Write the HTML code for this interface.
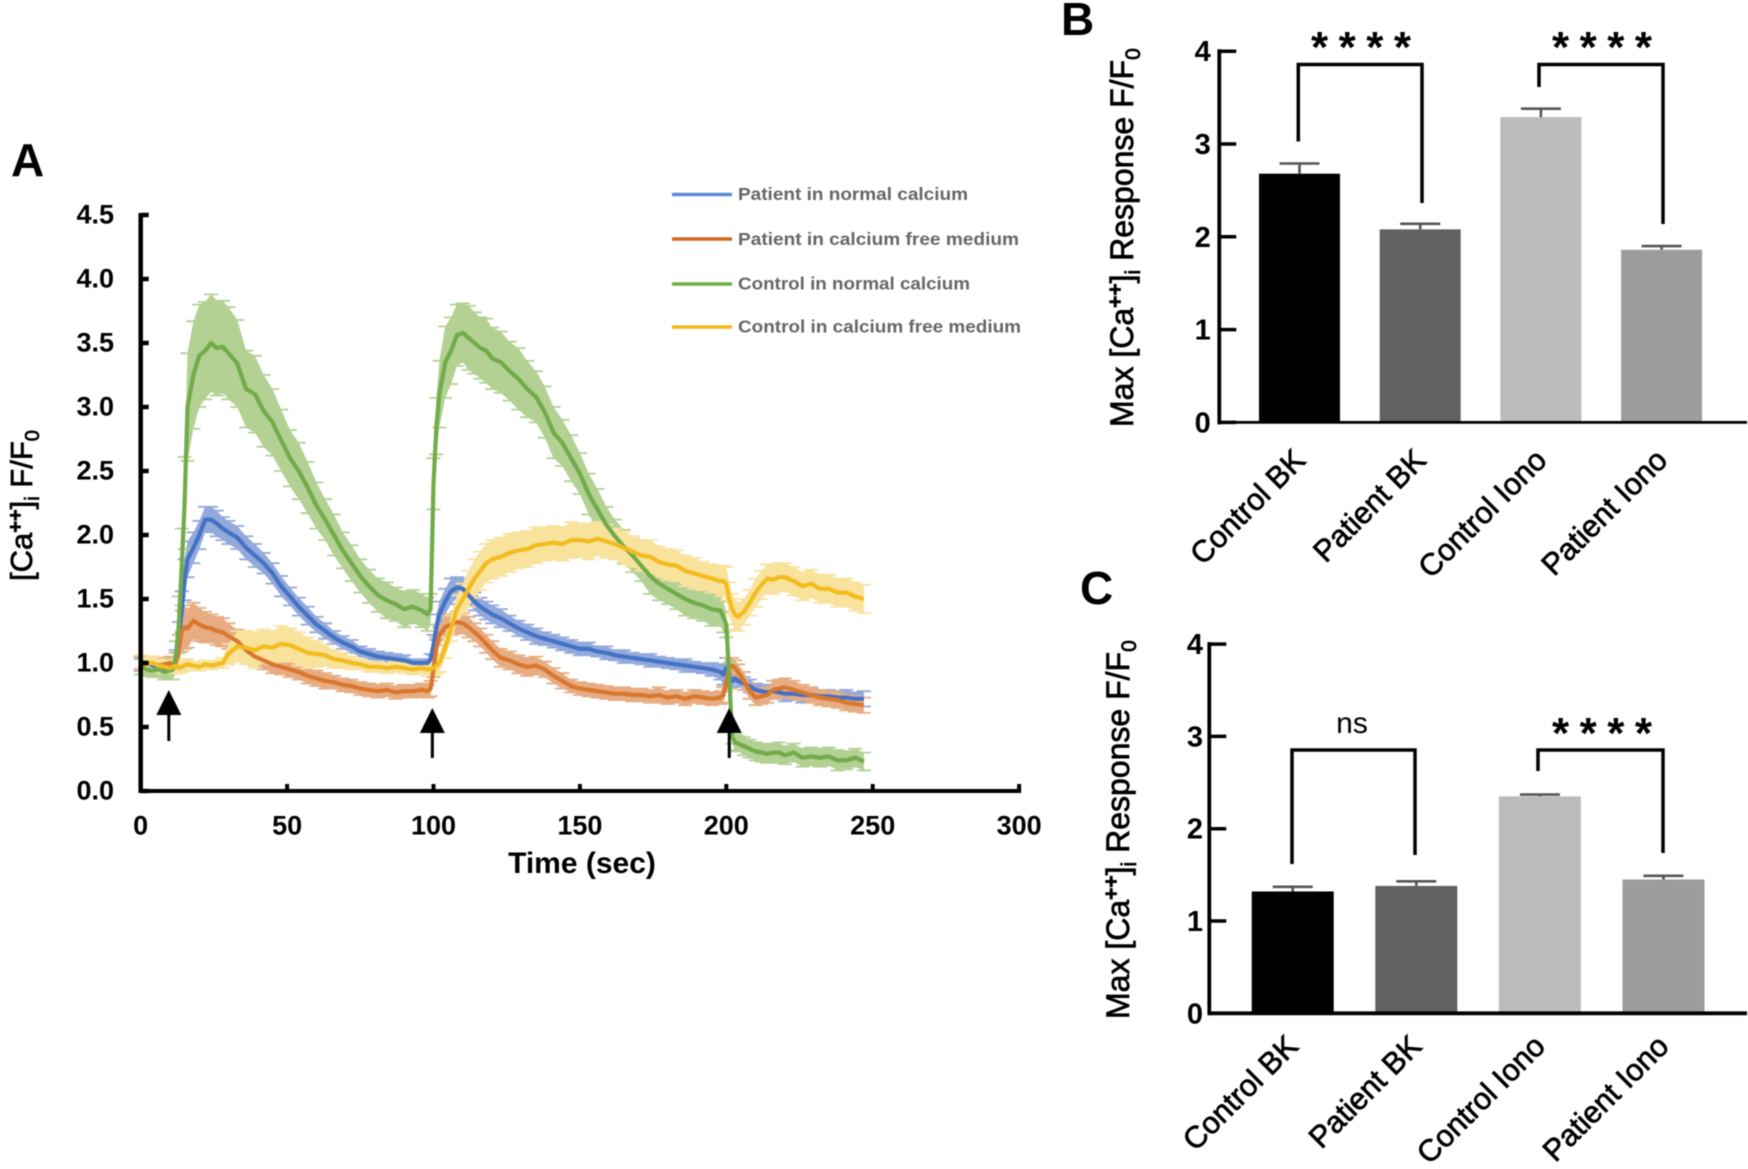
<!DOCTYPE html>
<html lang="en">
<head>
<meta charset="utf-8">
<title>Calcium response charts</title>
<style>
html,body{margin:0;padding:0;background:#fff;}
svg{display:block;filter:blur(.45px);}
text{font-family:"Liberation Sans",Arial,sans-serif;fill:#000;}
.tick-a{font-size:27px;font-weight:700;}
.tick-b{font-size:29px;font-weight:700;}
.title{font-size:32px;stroke:#000;stroke-width:.7px;}
.cat{font-size:30.5px;stroke:#000;stroke-width:.7px;}
.panel{font-size:46px;font-weight:700;}
.legend{font-size:17.5px;font-weight:700;fill:#666;}
.stars{font-size:44px;font-weight:700;}
</style>
</head>
<body>
<svg id="fig" xmlns="http://www.w3.org/2000/svg" width="1748" height="1169" viewBox="0 0 1748 1169">
  <rect width="1748" height="1169" fill="#fff"/>
  <text class="panel" x="11" y="176">A</text>
  <text class="panel" x="1061" y="35">B</text>
  <text class="panel" x="1080" y="604">C</text>

  <text class="title" transform="translate(32,581) rotate(-90)" style="font-size:31px">[Ca<tspan dy="-10" font-size="20" font-weight="700">++</tspan><tspan dy="10">]</tspan><tspan dy="7" font-size="20">i</tspan><tspan dy="-7"> F/F</tspan><tspan dy="7" font-size="20">0</tspan></text>
  <text x="582" y="873" text-anchor="middle" font-size="30" font-weight="700">Time (sec)</text>

  <text class="title" transform="translate(1133,427) rotate(-90)">Max [Ca<tspan dy="-11" font-size="21" font-weight="700">++</tspan><tspan dy="11">]</tspan><tspan dy="7" font-size="21">i</tspan><tspan dy="-7"> Response F/F</tspan><tspan dy="7" font-size="21">0</tspan></text>
  <text class="title" transform="translate(1129,1019) rotate(-90)">Max [Ca<tspan dy="-11" font-size="21" font-weight="700">++</tspan><tspan dy="11">]</tspan><tspan dy="7" font-size="21">i</tspan><tspan dy="-7"> Response F/F</tspan><tspan dy="7" font-size="21">0</tspan></text>

  <g id="legend">
    <line x1="672" x2="732" y1="194.5" y2="194.5" stroke="#5B8BD5" stroke-width="3.5"/>
    <text class="legend" x="738" y="200" textLength="230" lengthAdjust="spacingAndGlyphs">Patient in normal calcium</text>
    <line x1="672" x2="732" y1="239" y2="239" stroke="#D2691E" stroke-width="3.5"/>
    <text class="legend" x="738" y="245" textLength="281" lengthAdjust="spacingAndGlyphs">Patient in calcium free medium</text>
    <line x1="672" x2="732" y1="284" y2="284" stroke="#70AD47" stroke-width="3.5"/>
    <text class="legend" x="738" y="289.500" textLength="232" lengthAdjust="spacingAndGlyphs">Control in normal calcium</text>
    <line x1="672" x2="732" y1="327" y2="327" stroke="#F2B81C" stroke-width="3.5"/>
    <text class="legend" x="738" y="332.500" textLength="283" lengthAdjust="spacingAndGlyphs">Control in calcium free medium</text>
  </g>

  <g id="a-series"></g>
  <g id="a-axes"></g>
  <g id="a-arrows"></g>
  <g id="b-chart"></g>
  <g id="c-chart"></g>
</svg>

<script>
// ---------- Panel A data ----------
const times = [0,2,4,6,8, 10,11,12,13,14,15,16, 18,20,22,24,26,28,30,
  33,36,39,42,45,48,51,54,57,60,63,66,69,72,75,78,81,84,87,90,93,96,
  98,99,100,101,102, 104,106,108,110,112,114,116,118,120,
  123,126,129,132,135,138,141,144,147,150,153,156,159,162,165,168,171,174,177,180,183,186,189,192,195,198,
  199,200,201,202,203,204, 206,208,210,212,214,216,218,220, 223,226,229,232,235,238,241,244,247];

const patientNormal = [.99,1.0,.98,.97,.96, .97,.98,1.02,1.2,1.4,1.65,1.81, 1.9,2.0,2.12,2.12,2.09,2.05,2.02,
  1.98,1.9,1.84,1.78,1.7,1.6,1.52,1.44,1.37,1.3,1.25,1.2,1.16,1.13,1.09,1.07,1.05,1.04,1.03,1.02,1.0,1.0,
  1.0,1.03,1.14,1.28,1.38, 1.48,1.56,1.59,1.58,1.53,1.48,1.44,1.41,1.38,
  1.35,1.31,1.27,1.24,1.21,1.19,1.17,1.15,1.13,1.11,1.11,1.09,1.08,1.06,1.05,1.04,1.03,1.02,1.01,1.0,.99,.98,.97,.96,.95,.93,
  .91,.96,.9,.86,.88,.86, .84,.82,.79,.78,.77,.78,.77,.76, .76,.75,.75,.74,.74,.73,.73,.72,.72];
const patientNormalErr = [.05,.05,.05,.05,.05, .05,.05,.08,.12,.16,.16,.14, .12,.11,.1,.1,.1,.09,.09,
  .09,.09,.09,.08,.08,.08,.07,.07,.07,.06,.06,.05,.05,.05,.04,.04,.04,.04,.04,.04,.03,.03,
  .03,.04,.08,.1,.1, .1,.1,.08,.08,.07,.07,.07,.07,.07,
  .07,.06,.06,.06,.06,.05,.05,.05,.05,.05,.05,.04,.05,.04,.05,.04,.04,.05,.04,.04,.04,.05,.04,.04,.05,.06,
  .08,.08,.06,.05,.04,.04, .05,.05,.05,.05,.05,.05,.05,.06, .05,.06,.05,.05,.05,.05,.06,.05,.06];

const patientFree = [1.0,.99,1.0,.98,.99, 1.0,.98,1.0,1.1,1.25,1.28,1.27, 1.33,1.3,1.28,1.27,1.25,1.24,1.21,
  1.17,1.1,1.05,1.02,.99,.97,.95,.93,.9,.88,.86,.85,.83,.82,.8,.79,.78,.79,.77,.78,.78,.79,
  .78,.8,.95,1.12,1.22, 1.28,1.3,1.32,1.31,1.28,1.24,1.2,1.15,1.1,
  1.04,1.02,.99,.97,.98,.95,.9,.86,.82,.8,.79,.78,.77,.76,.76,.75,.75,.74,.75,.73,.74,.72,.74,.73,.72,.73,
  .75,.85,.98,.98,.96,.93, .86,.78,.73,.74,.75,.79,.8,.81, .79,.77,.75,.73,.72,.71,.69,.68,.67];
const patientFreeErr = [.05,.05,.05,.05,.05, .05,.05,.08,.12,.16,.17,.15, .14,.13,.12,.11,.11,.11,.1,
  .09,.08,.07,.07,.07,.06,.06,.06,.06,.06,.06,.05,.05,.05,.05,.05,.05,.05,.05,.05,.05,.05,
  .05,.06,.06,.08,.08, .08,.08,.08,.08,.08,.07,.07,.07,.07,
  .07,.07,.07,.07,.07,.06,.06,.06,.05,.05,.05,.05,.05,.05,.05,.05,.05,.05,.06,.05,.05,.05,.05,.05,.05,.05,
  .06,.07,.06,.06,.06,.06, .07,.06,.06,.06,.06,.07,.07,.07, .07,.06,.06,.06,.06,.06,.06,.06,.06];

const controlNormal = [.97,.95,.94,.95,.93, .94,.95,1.05,1.3,1.75,2.25,3.0, 3.25,3.4,3.44,3.5,3.46,3.47,3.42,
  3.34,3.14,3.1,2.97,2.88,2.74,2.6,2.5,2.37,2.23,2.12,2.0,1.88,1.78,1.68,1.6,1.53,1.49,1.46,1.42,1.44,1.41,
  1.38,1.42,2.4,2.85,3.1, 3.35,3.44,3.56,3.58,3.54,3.5,3.46,3.44,3.38,
  3.35,3.28,3.22,3.14,3.08,2.96,2.8,2.72,2.6,2.48,2.32,2.2,2.08,1.99,1.91,1.84,1.76,1.68,1.62,1.58,1.54,1.5,1.47,1.45,1.42,1.41,
  1.36,1.3,.9,.42,.38,.37, .35,.33,.31,.3,.29,.3,.3,.28, .3,.26,.27,.26,.27,.24,.24,.26,.23];
const controlNormalErr = [.06,.05,.05,.06,.06, .07,.08,.12,.22,.3,.36,.42, .42,.4,.38,.38,.37,.36,.36,
  .34,.3,.3,.28,.26,.24,.22,.22,.2,.18,.16,.16,.14,.14,.13,.13,.13,.14,.13,.14,.13,.13,
  .13,.12,.2,.22,.26, .28,.26,.24,.23,.25,.24,.24,.25,.24,
  .24,.23,.24,.22,.2,.2,.2,.18,.18,.16,.16,.16,.14,.13,.13,.13,.12,.14,.13,.12,.12,.13,.12,.12,.13,.12,
  .12,.1,.1,.05,.06,.06, .07,.07,.07,.07,.07,.07,.08,.07, .07,.07,.07,.07,.07,.08,.07,.07,.07];

const controlFree = [1.01,.99,1.0,.98,.97, .96,.97,.98,.96,.97,.98,.99, .98,.97,.99,.98,.99,1.0,1.07,
  1.13,1.12,1.1,1.13,1.12,1.15,1.14,1.11,1.08,1.07,1.06,1.03,1.02,1.0,.99,.97,.97,.96,.97,.96,.95,.96,
  .95,.95,.96,.98,1.0, 1.12,1.27,1.42,1.5,1.58,1.66,1.72,1.78,1.81,
  1.83,1.86,1.88,1.89,1.92,1.93,1.94,1.93,1.96,1.96,1.95,1.97,1.95,1.93,1.9,1.87,1.84,1.83,1.79,1.77,1.76,1.72,1.7,1.68,1.66,1.64,
  1.64,1.62,1.5,1.42,1.38,1.36, 1.4,1.47,1.55,1.61,1.66,1.65,1.67,1.67, 1.64,1.6,1.62,1.58,1.58,1.55,1.55,1.52,1.5];
const controlFreeErr = [.05,.05,.05,.05,.05, .04,.04,.04,.04,.04,.04,.04, .03,.03,.03,.03,.03,.04,.08,
  .12,.13,.14,.13,.13,.14,.13,.13,.12,.1,.08,.07,.06,.05,.04,.04,.04,.04,.04,.04,.04,.04,
  .05,.05,.05,.06,.07, .08,.1,.11,.12,.14,.15,.15,.15,.15,
  .15,.15,.14,.14,.14,.13,.13,.13,.14,.13,.14,.13,.13,.12,.13,.12,.12,.13,.12,.12,.12,.12,.12,.11,.11,.12,
  .12,.13,.13,.12,.12,.11, .1,.1,.11,.11,.11,.11,.11,.11, .11,.11,.11,.11,.11,.11,.11,.11,.11];

const xTickValues = [0,50,100,150,200,250,300];
const yTickValues = [0,0.5,1,1.5,2,2.5,3,3.5,4,4.5];
const arrowTimes = [9.6,99.6,201];

// ---------- Panel B / C data ----------
const barCategories = ["Control BK","Patient BK","Control Iono","Patient Iono"];
const barColors = ["#000000","#616161","#bbbbbb","#9c9c9e"];
const barTicks = [0,1,2,3,4];
const panelBValues = [2.68,2.08,3.29,1.86];
const panelBErrors = [0.11,0.06,0.09,0.04];
const panelCValues = [1.32,1.38,2.35,1.45];
const panelCErrors = [0.05,0.05,0.02,0.04];

// ---------- helpers ----------
const NS = "http://www.w3.org/2000/svg";
function mk(parent, tag, attrs, txt){
  const el = document.createElementNS(NS, tag);
  for(const k in attrs) el.setAttribute(k, attrs[k]);
  if(txt !== undefined) el.textContent = txt;
  parent.appendChild(el);
  return el;
}
const ax = t => 140.7 + t * 2.928;
const ay = v => 791 - v * 128;

// ---------- Panel A ----------
const seriesList = [
  {key:"patient-normal", mean:patientNormal, err:patientNormalErr, line:"#4472C4", band:"#93A9DC"},
  {key:"patient-free",   mean:patientFree,   err:patientFreeErr,   line:"#D9772F", band:"#E7AC82"},
  {key:"control-normal", mean:controlNormal, err:controlNormalErr, line:"#72AB4A", band:"#B2D193"},
  {key:"control-free",   mean:controlFree,   err:controlFreeErr,   line:"#F3BC1E", band:"#F8E29C"}
];
const gS = document.getElementById("a-series");
seriesList.forEach(s => {
  let up = times.map((t,i)=>ax(t).toFixed(1)+","+ay(s.mean[i]+s.err[i]).toFixed(1));
  let dn = times.map((t,i)=>ax(t).toFixed(1)+","+ay(s.mean[i]-s.err[i]).toFixed(1)).reverse();
  const band = mk(gS,"polygon",{points:up.concat(dn).join(" "),fill:s.band});
  
  
  let d = "";
  times.forEach((t,i)=>{
    const x = ax(t), hi = ay(s.mean[i]+s.err[i]), lo = ay(s.mean[i]-s.err[i]);
    d += `M${(x-7).toFixed(1)} ${hi.toFixed(1)}H${(x+7).toFixed(1)}M${(x-7).toFixed(1)} ${lo.toFixed(1)}H${(x+7).toFixed(1)}`;
  });
  const caps = mk(gS,"path",{d:d,stroke:s.band,"stroke-width":1.8,fill:"none"});
  
  
});
seriesList.forEach(s => {
  const pts = times.map((t,i)=>ax(t).toFixed(1)+","+ay(s.mean[i]).toFixed(1)).join(" ");
  const ln = mk(gS,"polyline",{points:pts,fill:"none",stroke:s.line,"stroke-width":4.2,"stroke-linejoin":"round"});
  
  
});

const gA = document.getElementById("a-axes");
const yAxisA = mk(gA,"line",{x1:ax(0),x2:ax(0),y1:ay(4.5)-2,y2:ay(0)+2,stroke:"#000","stroke-width":4.5});


const xAxisA = mk(gA,"line",{x1:ax(0)-2,x2:ax(300)+2,y1:ay(0),y2:ay(0),stroke:"#000","stroke-width":4});


yTickValues.forEach(v=>{
  const tk = mk(gA,"line",{x1:ax(0),x2:ax(0)+8,y1:ay(v),y2:ay(v),stroke:"#000","stroke-width":4.5});
  
  
  const lb = mk(gA,"text",{x:114,y:ay(v)+8.5,"text-anchor":"end",class:"tick-a"},v.toFixed(1));
  
  
});
xTickValues.forEach(v=>{
  const tk = mk(gA,"line",{x1:ax(v),x2:ax(v),y1:ay(0),y2:ay(0)-7,stroke:"#000","stroke-width":4});
  
  
  const lb = mk(gA,"text",{x:ax(v),y:834.5,"text-anchor":"middle",class:"tick-a"},String(v));
  
  
});

const gArr = document.getElementById("a-arrows");
[[arrowTimes[0],690,741],[arrowTimes[1],708,758],[arrowTimes[2],708,758]].forEach(a=>{
  const x = ax(a[0]);
  const g = mk(gArr,"g",{});
  
  
  mk(g,"polygon",{points:`${x},${a[1]} ${x-12.500},${a[1]+25} ${x+12.500},${a[1]+25}`,fill:"#000"});
  mk(g,"line",{x1:x,x2:x,y1:a[1]+24,y2:a[2],stroke:"#000","stroke-width":3});
});

// ---------- Bar panels ----------
function barPanel(cfg){
  const g = document.getElementById(cfg.id);
  const by = v => cfg.y0 - v * cfg.unit;
  const bx = i => cfg.x0 + i * cfg.step;
  cfg.values.forEach((v,i)=>{
    const bar = mk(g,"rect",{x:bx(i)-cfg.w/2,y:by(v),width:cfg.w,height:cfg.y0-by(v),fill:barColors[i]});
    
    
    const top = by(v + cfg.errors[i]);
    const eb = mk(g,"path",{d:`M${bx(i)} ${by(v)}V${top}M${bx(i)-20} ${top}H${bx(i)+20}`,stroke:"#555","stroke-width":2.6,fill:"none"});
    
    
    const lb = mk(g,"text",{class:"cat","text-anchor":"end",transform:`translate(${bx(i)+cfg.lx},${cfg.ly}) rotate(-45)`},barCategories[i]);
    
    
  });
  const yA = mk(g,"line",{x1:cfg.ax,x2:cfg.ax,y1:by(4)-2,y2:cfg.y0+2,stroke:"#000","stroke-width":3.8});
  
  
  const xA = mk(g,"line",{x1:cfg.ax,x2:1747,y1:cfg.y0,y2:cfg.y0,stroke:"#000","stroke-width":cfg.xsw});
  
  
  barTicks.forEach(v=>{
    const tk = mk(g,"line",{x1:cfg.ax,x2:cfg.ax+17,y1:by(v),y2:by(v),stroke:"#000","stroke-width":3.5});
    
    
    const lb = mk(g,"text",{x:cfg.ax+cfg.tx,y:by(v)+10,"text-anchor":"end",class:"tick-b"},String(v));
    
    
  });
  cfg.brackets.forEach(b=>{
    const p = mk(g,"path",{d:b.d,fill:"none",stroke:"#000","stroke-width":3.5});
    
    
    const t = b.ns
      ? mk(g,"text",{x:b.tx,y:b.ty,"text-anchor":"middle","font-size":30},b.label)
      : mk(g,"text",{x:b.tx,y:b.ty,"text-anchor":"middle",class:"stars",textLength:100},b.label);
    
    
  });
}
barPanel({id:"b-chart",values:panelBValues,errors:panelBErrors,x0:1299.5,step:120.7,w:81,y0:422.4,unit:92.8,ax:1219.3,tx:-8.5,xsw:2.8,lx:7.5,ly:462,
  brackets:[
    {d:"M1298.3 141.500V64.500H1422V203",tx:1361,ty:62,label:"****"},
    {d:"M1539 87V64.500H1663V224",tx:1602,ty:62,label:"****"}
  ]});
barPanel({id:"c-chart",values:panelCValues,errors:panelCErrors,x0:1292.7,step:123.6,w:82,y0:1013.3,unit:92.3,ax:1209.3,tx:-6.3,xsw:3.8,lx:7,ly:1048,
  brackets:[
    {d:"M1292 864V750H1415V855",tx:1352,ty:733,label:"ns",ns:true},
    {d:"M1538 771V750H1663V853",tx:1602,ty:748,label:"****"}
  ]});
</script>
</body>
</html>
